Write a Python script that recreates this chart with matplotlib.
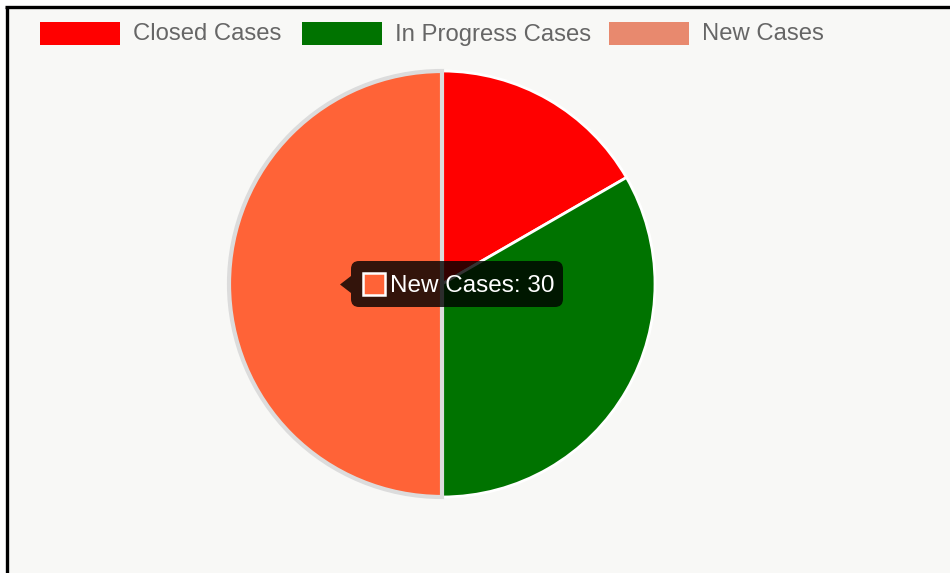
import matplotlib.pyplot as plt
from matplotlib.patches import Rectangle, FancyBboxPatch, Polygon

labels = ["Closed Cases", "In Progress Cases", "New Cases"]
values = [10, 20, 30]
colors = ["#ff0000", "#007300", "#e8896e"]
hover_color = "#ff6337"
hovered = 2

plt.rcParams['font.family'] = ['Liberation Sans', 'DejaVu Sans']

W, H = 950, 573
fig = plt.figure(figsize=(W / 100, H / 100), dpi=100)
fig.patch.set_facecolor("white")
ax = fig.add_axes([0, 0, 1, 1])

# canvas panel with a dark frame on top and left
ax.add_patch(Rectangle((6.5, 6.5), W, H, facecolor="#f8f8f6", edgecolor="none", zorder=0))
ax.plot([6.5, 6.5], [H, 6.5], color="black", lw=2.4, solid_capstyle="butt", zorder=1)
ax.plot([5.3, W], [6.5, 6.5], color="black", lw=2.4, solid_capstyle="butt", zorder=1)

# legend row
box_x = [40, 302, 609]
for x0, lab, col in zip(box_x, labels, colors):
    ax.add_patch(Rectangle((x0, 22), 80, 23, facecolor=col, edgecolor="none", zorder=2))
    ax.text(x0 + 93, 34.5, lab, fontsize=17.2, color="#666666", va="center", ha="left", zorder=2)

# pie, clockwise from 12 o'clock (y axis is inverted, so counterclock in data = clockwise on screen)
slice_colors = [hover_color if i == hovered else c for i, c in enumerate(colors)]
wedges, _ = ax.pie(values, colors=slice_colors, center=(442, 284), radius=213,
                   startangle=-90, counterclock=True, frame=True,
                   wedgeprops=dict(edgecolor="white", linewidth=2))
ax.set_xlim(0, W)
ax.set_ylim(H, 0)
ax.set_aspect("equal")
ax.axis("off")
wedges[hovered].set_edgecolor("#dcdcdc")
wedges[hovered].set_linewidth(3)
wedges[hovered].set_zorder(3)

# tooltip
tip_text = f"{labels[hovered]}: {values[hovered]}"
ax.add_patch(FancyBboxPatch((351, 261), 212, 46, boxstyle="round,pad=0,rounding_size=8",
                            facecolor="black", edgecolor="none", alpha=0.8, zorder=5))
ax.add_patch(Polygon([(340, 284.5), (351, 276), (351, 293)], closed=True,
                     facecolor="black", edgecolor="none", alpha=0.8, zorder=5))
ax.add_patch(Rectangle((363, 273), 22, 22, facecolor=hover_color, edgecolor="white", lw=1.8, zorder=6))
ax.text(390, 285.5, tip_text, fontsize=17.5, color="white", va="center", ha="left", zorder=6)

fig.savefig("out.png", dpi=100, facecolor=fig.get_facecolor())
